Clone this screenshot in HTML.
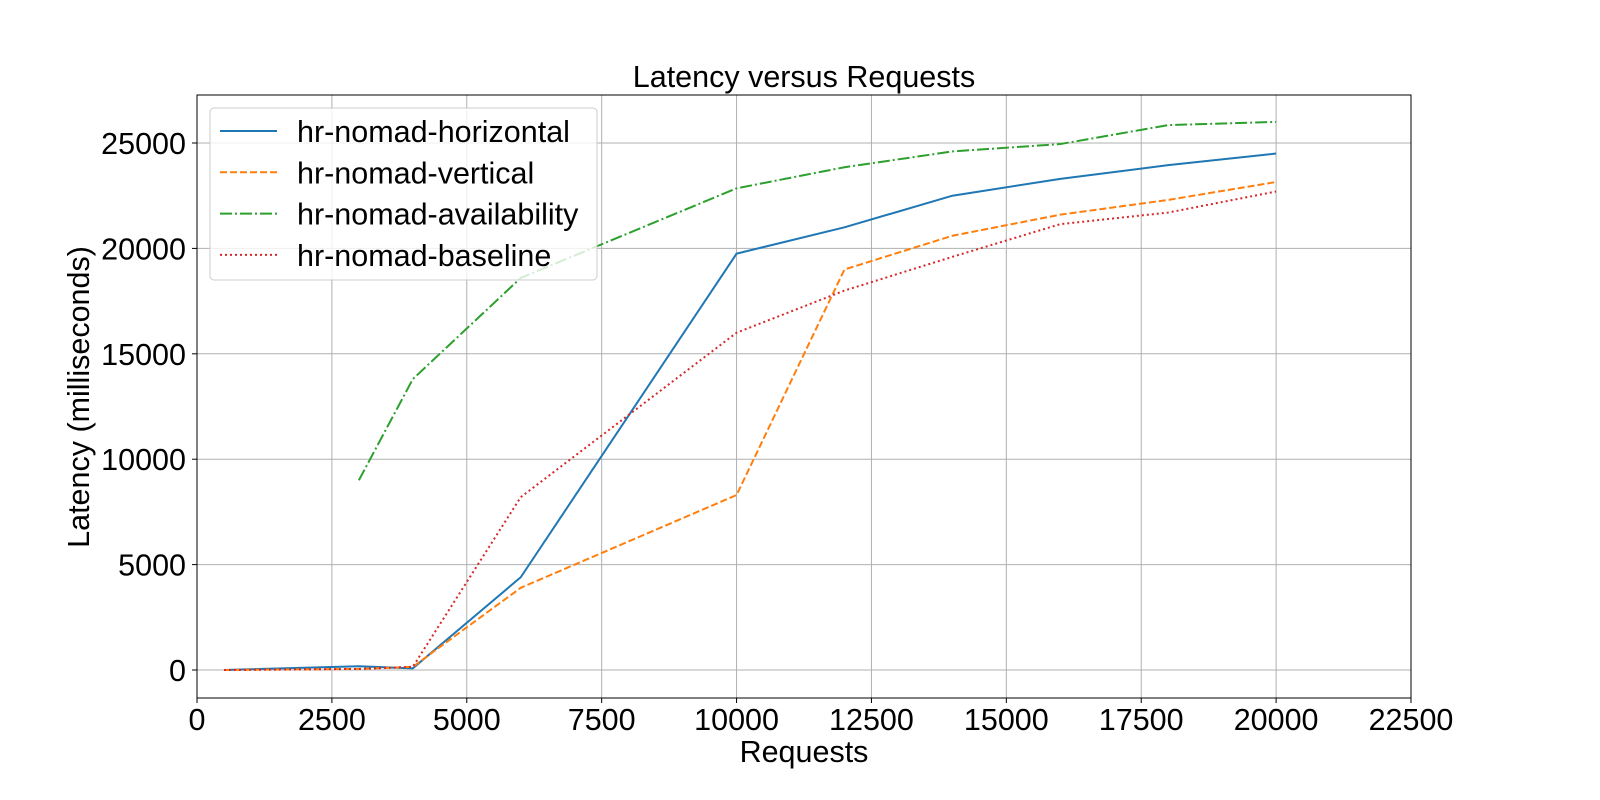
<!DOCTYPE html>
<html><head><meta charset="utf-8"><style>
body{margin:0;background:#fff;}
svg{display:block;font-family:"Liberation Sans","DejaVu Sans",sans-serif;}
</style></head><body>
<svg id="chart" width="1600" height="800"></svg>
<script>
const xs = [500,3000,4000,6000,10000,12000,14000,16000,18000,20000];
const horizontal = [0,180,80,4400,19750,21000,22500,23300,23950,24500];
const vertical = [0,50,150,3900,8300,19000,20600,21600,22300,23150];
const availabilityX = [3000,4000,6000,10000,12000,14000,16000,18000,20000];
const availability = [9000,13800,18600,22850,23850,24600,24950,25850,26000];
const baseline = [0,50,150,8200,16000,18000,19600,21150,21700,22700];
const xTicks = [0,2500,5000,7500,10000,12500,15000,17500,20000,22500];
const yTicks = [0,5000,10000,15000,20000,25000];

const NS="http://www.w3.org/2000/svg";
const svg=document.getElementById('chart');
const L=197,R=1411,T=95,B=698;
const FS=30.5;
const sx=v=>L+(v/22500)*(R-L);
const sy=v=>670-(v/25000)*527;
function el(tag,attrs,parent){const e=document.createElementNS(NS,tag);for(const k in attrs)e.setAttribute(k,attrs[k]);(parent||svg).appendChild(e);return e;}

xTicks.forEach(t=>{
  const g=el('line',{x1:sx(t),x2:sx(t),y1:T,y2:B,stroke:'#b0b0b0','stroke-width':1});
  
  
  el('line',{x1:sx(t),x2:sx(t),y1:B,y2:B+5,stroke:'#000'});
  const tx=el('text',{x:sx(t),y:B+32,'font-size':FS,'text-anchor':'middle'});
  tx.textContent=t;
  
  
});
yTicks.forEach(t=>{
  const g=el('line',{x1:L,x2:R,y1:sy(t),y2:sy(t),stroke:'#b0b0b0','stroke-width':1});
  
  
  el('line',{x1:L-5,x2:L,y1:sy(t),y2:sy(t),stroke:'#000'});
  const tx=el('text',{x:L-11,y:sy(t)+11,'font-size':FS,'text-anchor':'end'});
  tx.textContent=t;
  
  
});

function series(xv,yv,color,dash,name){
  const p=el('polyline',{points:xv.map((x,i)=>sx(x)+','+sy(yv[i])).join(' '),fill:'none',stroke:color,'stroke-width':2,'stroke-dasharray':dash});
  
  
}
series(xs,horizontal,'#1f77b4','none','series-horizontal');
series(xs,vertical,'#ff7f0e','7,3','series-vertical');
series(availabilityX,availability,'#2ca02c','12,3,2,3','series-availability');
series(xs,baseline,'#d62728','2,3','series-baseline');

el('rect',{x:L,y:T,width:R-L,height:B-T,fill:'none',stroke:'#000','stroke-width':1});

const title=el('text',{x:(L+R)/2,y:87,'font-size':FS,'text-anchor':'middle'});
title.textContent='Latency versus Requests';


const xt=el('text',{x:(L+R)/2,y:762,'font-size':FS,'text-anchor':'middle'});
xt.textContent='Requests';


const yt=el('text',{x:0,y:0,'font-size':FS,'text-anchor':'middle',transform:'translate(89,397) rotate(-90)'});
yt.textContent='Latency (milliseconds)';



const lg=el('g',{});


el('rect',{x:210,y:108,width:387,height:172,rx:4,fill:'#fff','fill-opacity':0.8,stroke:'#ccc'},lg);
const entries=[['hr-nomad-horizontal','#1f77b4','none'],['hr-nomad-vertical','#ff7f0e','7,3'],['hr-nomad-availability','#2ca02c','12,3,2,3'],['hr-nomad-baseline','#d62728','2,3']];
entries.forEach((e,i)=>{
  const y=131+i*41.3;
  const g=el('g',{},lg);
  
  
  el('line',{x1:220,x2:277,y1:y,y2:y,stroke:e[1],'stroke-width':2,'stroke-dasharray':e[2]},g);
  const t=el('text',{x:297,y:y+11,'font-size':FS},g);
  t.textContent=e[0];
});
</script>
</body></html>
